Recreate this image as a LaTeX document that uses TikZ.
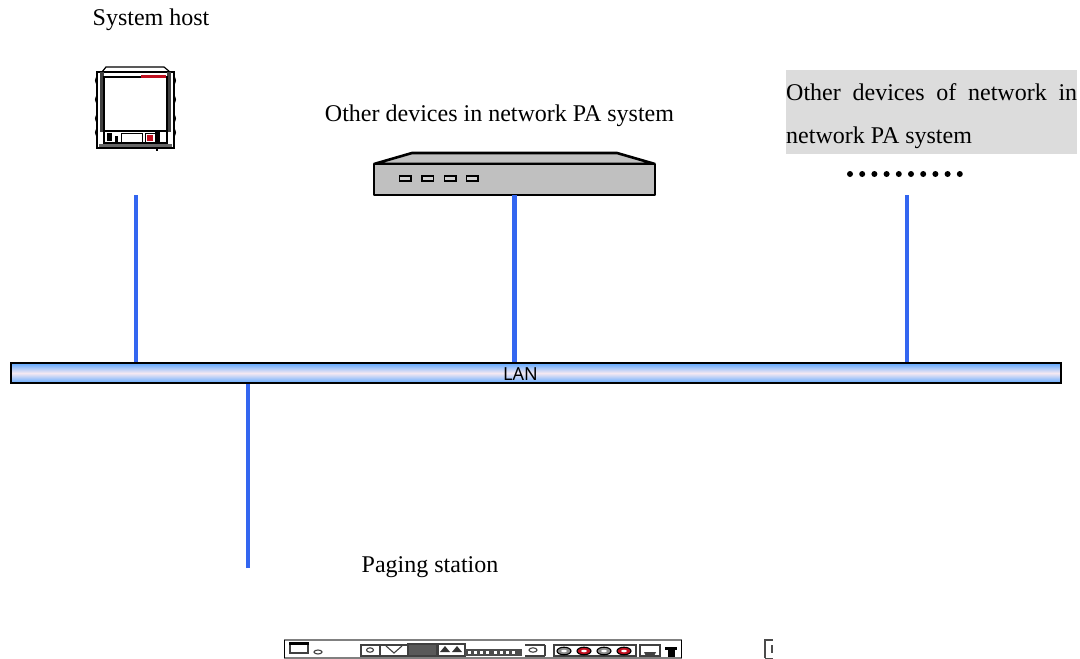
\documentclass[tikz,border=0pt]{standalone}
\usepackage{fontspec}
\setmainfont{Liberation Serif}
\newfontfamily\lanfont{Noto Sans}
\definecolor{wire}{HTML}{3366F0}
\definecolor{barblue}{HTML}{5FA8FF}
\definecolor{barmid}{HTML}{F6E9F2}
\definecolor{boxgrey}{HTML}{DCDCDC}
\definecolor{devgrey}{HTML}{C0C0C0}
\definecolor{portred}{HTML}{C01020}
\tikzset{
 wireline/.style={draw=wire,line width=4.2pt},
 label/.style={inner sep=0pt,font=\fontsize{24}{28}\selectfont,text=black},
 dev/.style={draw=black,line width=2.6pt,fill=devgrey,line join=bevel},
 port/.style={draw=black,line width=1.9pt,fill=devgrey!70!white},
 hostline/.style={draw=black,line width=1.2pt},
 strip/.style={draw=black!75,line width=1.1pt},
}
\begin{document}
\begin{tikzpicture}[x=1pt,y=-1pt]
\useasboundingbox (0,0) rectangle (1080,659);
% labels
\node[label] (hostlabel) at (151,19.5) {System host};
\node[label] (otherlabel) at (499.5,116) {Other devices in network PA system};
\node[label] (paginglabel) at (430,567) {Paging station};
% grey box
\fill[boxgrey] (786,70) rectangle (1077,154);
\node[label,anchor=base west] (ol1) at (786,100) {\makebox[291pt][s]{Other devices of network in}};
\node[label,anchor=base west] (ol2) at (786,143) {network PA system};
% dots
\foreach \i in {0,...,9} \fill[black] (850+\i*12.2,174) circle (3);
% LAN bar
\node[draw=black,line width=2.2pt,minimum width=1050pt,minimum height=20pt,inner sep=0pt,
  top color=barblue,bottom color=barblue,middle color=barmid,anchor=north west] (lan) at (10,362) {};
% coordinates and connectors
\coordinate (hostend) at (136,195);
\coordinate (devend) at (514.5,195);
\coordinate (otherend) at (907,195);
\coordinate (pageend) at (248,568);
\draw[wireline] (hostend) -- (hostend |- lan.north);
\draw[wireline] (otherend) -- (otherend |- lan.north);
\draw[wireline] (pageend) -- (pageend |- lan.south);
% host device
\begin{scope}
\draw[hostline,fill=white] (97,72) rectangle (174,148);
\draw[hostline] (102,72) -- (106,67) -- (164,67) -- (170,72);
\fill[black!75] (100,72) rectangle (104,132);
\fill[black!75] (167,72) rectangle (171,132);
\draw[hostline,fill=white] (104,77) rectangle (167,131);
\fill[portred] (141,75) rectangle (166,77.5);
\foreach \y in {84,103,122,136}{\draw[line width=1pt] (97.5,\y) arc (90:270:2 and 3.5);\draw[line width=1pt] (173.5,\y) arc (90:-90:2 and 3.5);}
\draw[hostline] (104,131) rectangle (167,143);
\fill[black] (107,133) rectangle (112,141);
\fill[black] (115,136) rectangle (118,142);
\draw[line width=.8pt] (121,133) rectangle (142,142);
\draw[line width=.8pt,fill=white] (145,133) rectangle (155,142);
\fill[portred] (147,135) rectangle (153,141);
\fill[black] (155,132) rectangle (160,146);
\draw[line width=1.2pt] (157,146) -- (157,151);
\fill[black!60] (99,144) rectangle (172,147);
\end{scope}
% network device
\draw[dev] (374,164) -- (412,153) -- (617,153) -- (655,164) -- cycle;
\draw[dev] (374,164) rectangle (655,195);
\foreach \x in {399.5,422,444.5,466.5} \draw[port] (\x,176) rectangle +(11.5,5);
\draw[wireline] (devend) -- (devend |- lan.north);
\node[inner sep=0pt,font=\lanfont\fontsize{18}{20}\selectfont] (lantext) at (520.5,374.5) {LAN};
% paging strip
\draw[strip,draw=black!50] (284,640) -- (682,640);
\draw[strip,draw=black!50] (284,658) -- (682,658);
\draw[black,line width=1.3pt] (284.5,640) -- (284.5,658);
\draw[black,line width=1.3pt] (681.5,640) -- (681.5,658);
\draw[strip,fill=white,line width=1.6pt] (290,643) rectangle (308,653);
\fill[black] (289,642) rectangle (309,645);
\draw[strip] (318,652) ellipse (4 and 2);
\draw[strip] (361,645) rectangle (380,656);
\draw[strip] (370,650) ellipse (3.5 and 2.2);
\draw[strip] (380,645) rectangle (408,656);
\draw[strip] (386,646) -- (394,653) -- (402,646);
\draw[strip,fill=black!65] (408,644) rectangle (437,656);
\draw[strip] (438,644) rectangle (465,656);
\fill[black!80] (440,652) -- (445,646) -- (450,652) -- cycle;
\fill[black!80] (452,652) -- (457,646) -- (462,652) -- cycle;
\fill[black!70] (465,649) rectangle (522,656);
\foreach \x in {468,474,480,486,494,500,506,512} \fill[white] (\x,651) rectangle +(3,3);
\draw[strip] (533,650) ellipse (4 and 2.2);
\draw[strip] (545,645) -- (545,656);
\draw[strip] (525,645) -- (545,645);
\draw[strip] (525,656) -- (545,656);
\draw[strip] (554,645) rectangle (636,656);
\foreach \x/\c in {564/black!45,584/portred,604/black!45,624/portred}{\draw[black,line width=1.1pt,fill=\c] (\x,651) ellipse (7 and 3.8);\fill[white] (\x,651) ellipse (2.8 and 1.3);}
\draw[strip] (640,645) rectangle (660,656);
\fill[black!75] (644,652) arc (180:0:6 and 5) -- cycle;
\fill[black] (665,647) rectangle (677,650);
\fill[black] (668,650) rectangle (675,657);
% remnant
\draw[black!70,line width=1.2pt] (765,658) -- (765,640) -- (773,640);
\draw[black!70,line width=1pt] (765,658) -- (773,658);
\fill[black!70] (771,645) rectangle (773,653);
\end{tikzpicture}
\end{document}
